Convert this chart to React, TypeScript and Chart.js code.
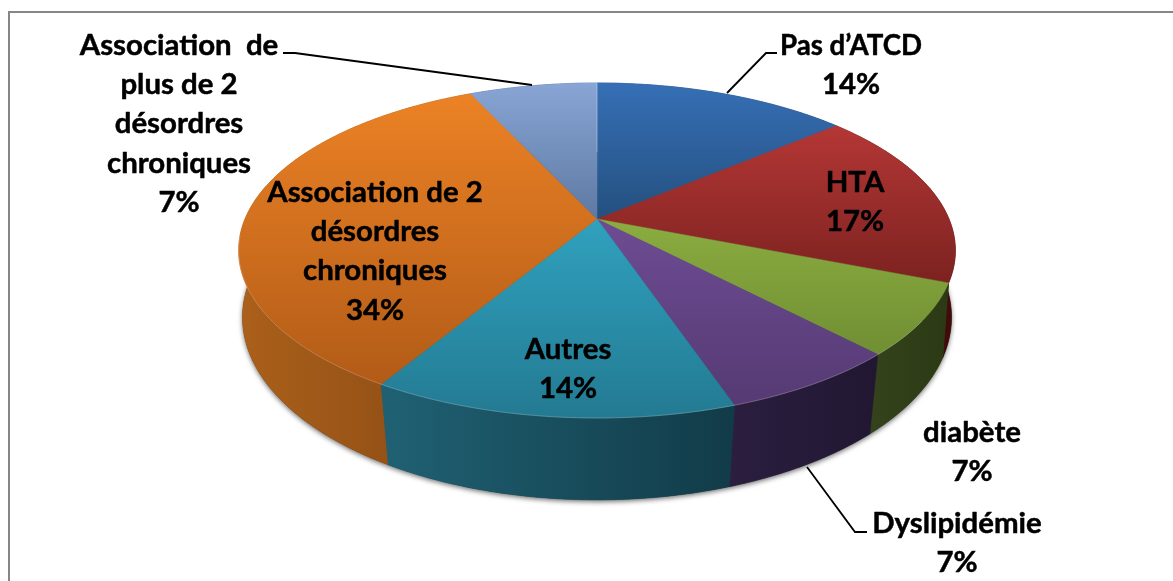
import React, { useEffect, useRef } from "react";
import { Chart, registerables } from "chart.js";

Chart.register(...registerables);

const categories = [
  "Pas d’ATCD",
  "HTA",
  "diabète",
  "Dyslipidémie",
  "Autres",
  "Association de 2 désordres chroniques",
  "Association de plus de 2 désordres chroniques",
];
const values = [13.8, 17.2, 6.9, 6.9, 13.8, 34.5, 6.9];
const percentLabels = ["14%", "17%", "7%", "7%", "14%", "34%", "7%"];

const labelLines = [
  ["Pas d’ATCD"],
  ["HTA"],
  ["diabète"],
  ["Dyslipidémie"],
  ["Autres"],
  ["Association de 2", "désordres", "chroniques"],
  ["Association  de", "plus de 2", "désordres", "chroniques"],
];
const labelAnchors = [
  [851, 55],
  [855, 192],
  [972, 442],
  [957, 533],
  [568, 359],
  [375, 202],
  [179, 55],
];
const labelMaxWidths = [142, 400, 400, 400, 400, 400, 400];
const leaderLines = [
  [[727, 93], [766, 53], [777, 53]],
  [[807, 467], [855, 532], [867, 532]],
  [[532, 85], [295, 53], [283, 53]],
];

const topColors = [
  ["#366fb6", "#24507f"],
  ["#b43735", "#7c2220"],
  ["#8bad40", "#708e33"],
  ["#6e4c94", "#553a73"],
  ["#30a1be", "#237a92"],
  ["#ec8225", "#b25b17"],
  ["#88a5d5", "#5e79a2"],
];
const wallColors = [
  ["#1c3a5c", "#1c3a5c"],
  ["#4a0f0d", "#3f0c0a"],
  ["#34431b", "#2b3a14"],
  ["#2b1e40", "#211731"],
  ["#1f6173", "#123b48"],
  ["#ab601a", "#894a14"],
  ["#4d6488", "#4d6488"],
];
const wallOrder = [0, 6, 1, 5, 2, 3, 4];

const CX = 597;
const TOP = { y: 219, a: 161.6, b: 352, k: 0.188 };
const BOTTOM = { y: 288, a: 178, b: 350, k: 0.16 };

type Face = { y: number; a: number; b: number; k: number };
const project = (t: number, f: Face, r = 1): [number, number] => {
  const u = Math.cos(t) * r;
  const v = Math.sin(t) * r;
  const w = 1 - f.k * v;
  return [CX + (f.b * u) / w, f.y + (f.a * v) / w];
};
const rim = (s: number, e: number, f: Face) => {
  const n = Math.max(2, Math.ceil((e - s) / 0.01));
  const pts: [number, number][] = [];
  for (let i = 0; i <= n; i++) pts.push(project(s + ((e - s) * i) / n, f));
  return pts;
};
const trace = (ctx: CanvasRenderingContext2D, pts: [number, number][]) => {
  ctx.beginPath();
  pts.forEach((p, i) => (i ? ctx.lineTo(p[0], p[1]) : ctx.moveTo(p[0], p[1])));
  ctx.closePath();
};

const pie3d = {
  id: "pie3d",
  beforeDatasetsDraw(chart: any) {
    const ctx: CanvasRenderingContext2D = chart.ctx;
    const arcs = chart.getDatasetMeta(0).data as any[];

    ctx.save();
    ctx.shadowColor = "rgba(0,0,0,0.55)";
    ctx.shadowBlur = 5;
    ctx.shadowOffsetY = 2;
    ctx.fillStyle = "#333";
    trace(ctx, rim(0, Math.PI * 2, BOTTOM));
    ctx.fill();
    ctx.restore();

    wallOrder.forEach((i) => {
      const { startAngle: s, endAngle: e } = arcs[i];
      const a = rim(s, e, TOP);
      const b = rim(s, e, BOTTOM).reverse();
      const poly = [...a, ...b];
      const xs = poly.map((p) => p[0]);
      const g = ctx.createLinearGradient(Math.min(...xs), 0, Math.max(...xs), 0);
      g.addColorStop(0, wallColors[i][0]);
      g.addColorStop(1, wallColors[i][1]);
      ctx.fillStyle = g;
      ctx.strokeStyle = g;
      ctx.lineWidth = 0.5;
      trace(ctx, poly);
      ctx.fill();
      ctx.stroke();
    });

    arcs.forEach((arc, i) => {
      const { startAngle: s, endAngle: e } = arc;
      const poly: [number, number][] = [[CX, TOP.y], ...rim(s, e, TOP)];
      const ys = poly.map((p) => p[1]);
      const g = ctx.createLinearGradient(0, Math.min(...ys), 0, Math.max(...ys));
      g.addColorStop(0, topColors[i][0]);
      g.addColorStop(1, topColors[i][1]);
      ctx.fillStyle = g;
      ctx.strokeStyle = g;
      ctx.lineWidth = 0.5;
      trace(ctx, poly);
      ctx.fill();
      ctx.stroke();
    });

    ctx.save();
    ctx.strokeStyle = "rgba(255,255,255,0.22)";
    ctx.lineWidth = 1;
    ctx.beginPath();
    rim(0.6, Math.PI - 0.1, TOP).forEach((p, i) => (i ? ctx.lineTo(p[0], p[1]) : ctx.moveTo(p[0], p[1])));
    ctx.stroke();
    ctx.strokeStyle = "rgba(255,255,255,0.3)";
    ctx.lineWidth = 1;
    ctx.beginPath();
    const p1 = project(-Math.PI / 2, TOP);
    const p2 = project(-Math.PI / 2, TOP, 0.45);
    ctx.moveTo(p1[0], p1[1]);
    ctx.lineTo(p2[0], p2[1]);
    ctx.stroke();
    ctx.restore();

    return false;
  },
  afterDraw(chart: any) {
    const ctx: CanvasRenderingContext2D = chart.ctx;
    ctx.save();
    ctx.strokeStyle = "#868686";
    ctx.lineWidth = 2;
    ctx.beginPath();
    ctx.moveTo(1173, 12);
    ctx.lineTo(9, 12);
    ctx.lineTo(9, 581);
    ctx.stroke();

    ctx.strokeStyle = "#000";
    ctx.lineWidth = 1.8;
    leaderLines.forEach((line) => {
      ctx.beginPath();
      line.forEach((p, i) => (i ? ctx.lineTo(p[0], p[1]) : ctx.moveTo(p[0], p[1])));
      ctx.stroke();
    });

    ctx.fillStyle = "#000";
    ctx.strokeStyle = "#000";
    ctx.lineWidth = 0.5;
    ctx.lineJoin = "round";
    ctx.font = 'bold 29.4px Lato, "Open Sans", sans-serif';
    ctx.textAlign = "center";
    ctx.textBaseline = "alphabetic";
    labelLines.forEach((lines, i) => {
      const [x, y] = labelAnchors[i];
      [...lines, percentLabels[i]].forEach((t, j) => {
        ctx.fillText(t, x, y + j * 39.2, labelMaxWidths[i]);
        ctx.strokeText(t, x, y + j * 39.2, labelMaxWidths[i]);
      });
    });
    ctx.restore();
  },
};

export default function App() {
  const ref = useRef<HTMLCanvasElement>(null);
  useEffect(() => {
    const chart = new Chart(ref.current!, {
      type: "pie",
      data: {
        labels: categories,
        datasets: [{ data: values, backgroundColor: topColors.map((c) => c[0]), borderWidth: 0 }],
      },
      options: {
        animation: false,
        responsive: false,
        events: [],
        plugins: { legend: { display: false }, tooltip: { enabled: false }, title: { display: false } },
      },
      plugins: [pie3d],
    } as any);
    return () => chart.destroy();
  }, []);
  return (
    <div style={{ position: "absolute", left: 0, top: 0, background: "#fff" }}>
      <canvas ref={ref} width={1173} height={581} style={{ display: "block" }} />
    </div>
  );
}
